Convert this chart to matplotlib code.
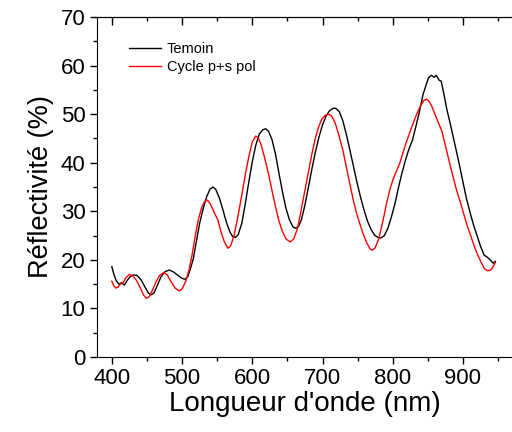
import matplotlib
matplotlib.use("Agg")
from matplotlib import pyplot as plt
from matplotlib.ticker import MultipleLocator

plt.rcParams['font.family'] = ['Liberation Sans', 'DejaVu Sans']

# Temoin (black)
wl_temoin = [400, 403, 406, 410, 414, 418, 422, 426, 430, 436, 442, 448, 452, 456, 460, 465, 470, 476,
             482, 488, 494, 500, 504, 508, 512, 516, 520, 525, 530, 535, 540, 544, 548, 553, 558, 563,
             568, 572, 576, 580, 585, 590, 595, 600, 605, 610, 615, 619, 623, 628, 633, 638, 643, 648,
             653, 658, 662, 666, 670, 675, 680, 685, 690, 695, 700, 705, 710, 715, 719, 724, 729, 734,
             739, 744, 749, 754, 759, 764, 769, 774, 779, 783, 788, 793, 798, 803, 808, 813, 818, 823,
             828, 833, 838, 843, 847, 851, 855, 859, 862, 866, 869, 873, 877, 881, 885, 890, 895, 900,
             905, 910, 915, 920, 925, 930, 935, 940, 943, 946]
r_temoin = [18.6, 17.0, 15.8, 15.0, 15.3, 14.8, 15.8, 16.5, 16.9, 16.8, 15.8, 14.2, 13.2, 12.8, 13.2,
            14.8, 16.5, 17.6, 17.9, 17.5, 16.8, 16.2, 16.0, 16.5, 18.2, 20.2, 23.5, 27.5, 30.5, 33.0,
            34.6, 35.0, 34.5, 32.8, 30.4, 27.8, 25.8, 24.8, 24.6, 25.2, 27.5, 31.5, 36.0, 40.2, 43.6,
            45.9, 46.8, 47.0, 46.5, 44.8, 41.8, 37.8, 34.0, 30.6, 28.2, 26.8, 26.5, 26.9, 28.3, 31.3,
            35.0, 38.8, 42.3, 45.3, 47.8, 49.6, 50.7, 51.2, 51.2, 50.5, 48.6, 45.8, 42.6, 39.3, 36.0,
            33.0, 30.3, 28.0, 26.3, 25.1, 24.6, 24.5, 25.0, 26.5, 28.8, 31.5, 34.8, 37.8, 40.5, 42.8,
            44.6, 47.5, 50.5, 54.0, 55.8, 57.5, 58.0, 57.6, 58.0, 57.0, 56.8, 54.0, 51.0, 48.6, 46.0,
            42.8, 39.5, 36.0, 32.6, 29.8, 27.2, 25.0, 22.8, 21.0, 20.5, 19.8, 19.3, 19.7]

# Cycle p+s pol (red)
wl_cycle = [400, 403, 406, 409, 412, 416, 420, 425, 430, 435, 440, 445, 449, 453, 458, 463, 468, 474,
            479, 484, 490, 496, 500, 505, 510, 514, 518, 523, 528, 532, 536, 540, 545, 551, 555, 560,
            565, 569, 574, 579, 585, 590, 595, 600, 605, 609, 613, 618, 623, 628, 633, 638, 643, 648,
            654, 659, 664, 669, 674, 679, 684, 689, 694, 699, 704, 709, 713, 718, 723, 729, 734, 739,
            744, 749, 753, 758, 763, 768, 771, 775, 780, 786, 791, 796, 801, 806, 810, 815, 820, 825,
            830, 835, 840, 844, 848, 852, 856, 860, 865, 870, 875, 880, 885, 890, 896, 901, 906, 911,
            916, 921, 926, 930, 934, 938, 942, 946]
r_cycle = [15.6, 14.6, 14.2, 14.4, 15.0, 15.3, 16.3, 17.0, 16.7, 15.8, 14.4, 12.8, 12.1, 12.4, 13.8,
           15.5, 16.8, 17.4, 16.9, 15.6, 14.2, 13.6, 14.0, 15.5, 18.0, 20.8, 24.3, 28.2, 30.8, 32.0,
           32.3, 31.6, 30.0, 28.2, 26.0, 23.8, 22.4, 22.8, 25.0, 28.5, 33.3, 37.5, 41.2, 44.3, 45.5,
           45.0, 43.5, 40.8, 37.8, 34.3, 31.0, 28.0, 25.8, 24.3, 23.7, 24.3, 26.3, 29.8, 33.6, 37.4,
           41.2, 44.6, 47.2, 49.0, 49.8, 50.0, 49.6, 48.2, 45.8, 42.6, 39.0, 35.6, 32.2, 29.3, 27.5,
           25.3, 23.5, 22.2, 22.0, 22.5, 24.3, 28.0, 31.5, 34.5, 36.8, 38.5, 39.9, 42.3, 44.5, 46.5,
           48.5, 50.3, 51.8, 52.8, 53.1, 52.6, 51.5, 50.0, 48.2, 46.5, 43.5, 40.5, 37.6, 34.8, 32.0,
           29.5, 27.0, 25.0, 22.8, 21.0, 19.5, 18.3, 17.8, 17.8, 18.3, 19.5]

fig = plt.figure(figsize=(5.12, 4.32), dpi=100)
ax = fig.add_axes([0.190, 0.1736, 0.810, 0.787])

ax.plot(wl_temoin, r_temoin, color='black', lw=1.0, label='Temoin')
ax.plot(wl_cycle, r_cycle, color='red', lw=1.0, label='Cycle p+s pol')

ax.set_xlim(379.3, 969.8)
ax.set_ylim(0, 70)
ax.xaxis.set_major_locator(MultipleLocator(100))
ax.xaxis.set_minor_locator(MultipleLocator(50))
ax.yaxis.set_major_locator(MultipleLocator(10))
ax.yaxis.set_minor_locator(MultipleLocator(5))
ax.tick_params(which='major', direction='out', length=5, width=1, labelsize=16)
ax.tick_params(which='minor', direction='out', length=3, width=1)
ax.tick_params(axis='x', pad=3)
ax.spines['right'].set_visible(False)

top = ax.secondary_xaxis('top')
top.xaxis.set_major_locator(MultipleLocator(100))
top.xaxis.set_minor_locator(MultipleLocator(50))
top.tick_params(which='major', direction='in', length=6, width=1, labeltop=False)
top.tick_params(which='minor', direction='in', length=3, width=1)

ax.set_xlabel("Longueur d'onde (nm)", fontsize=20, labelpad=1)
ax.set_ylabel("Réflectivité (%)", fontsize=19.5, labelpad=5)

ax.legend(loc='upper left', bbox_to_anchor=(0.045, 0.965), frameon=False, fontsize=10.5,
          handlelength=2.2, handletextpad=0.4, labelspacing=0.3)

fig.savefig('out.png', dpi=100)
